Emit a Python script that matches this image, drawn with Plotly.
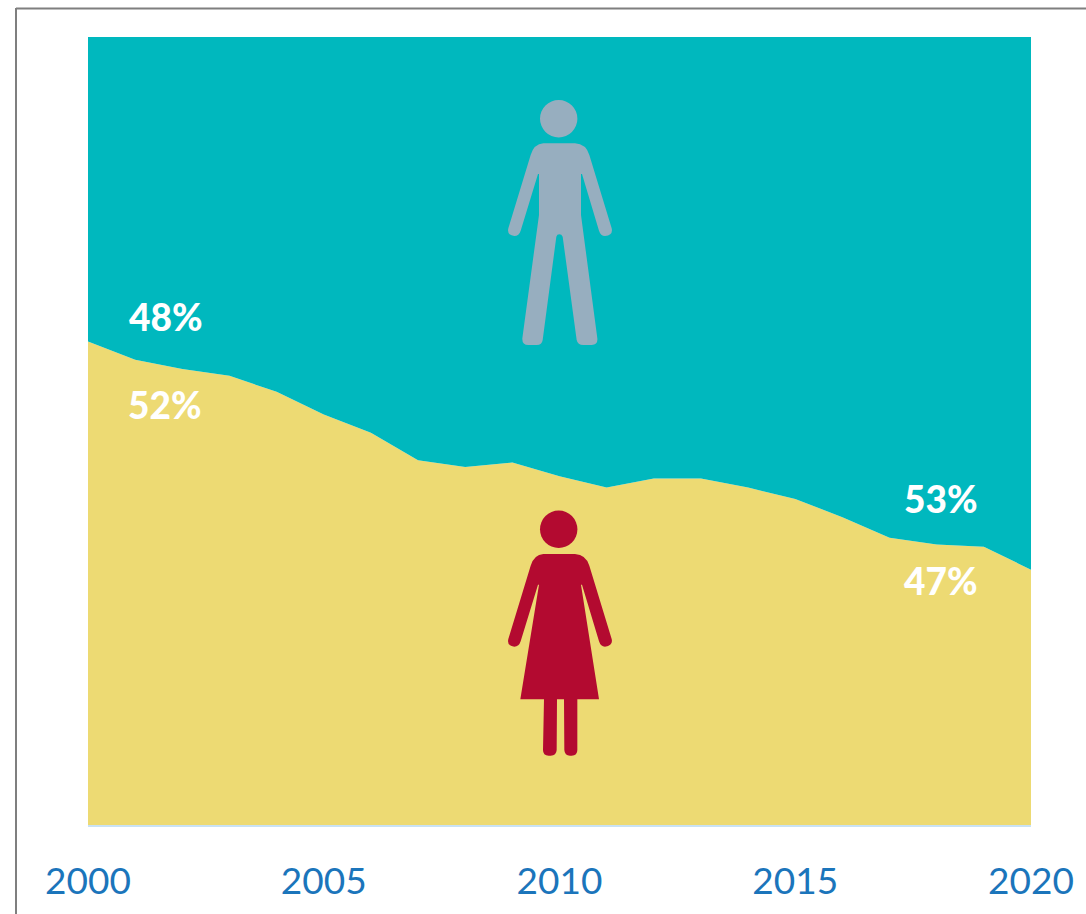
import plotly.graph_objects as go

# Shares (percent of total)
years = list(range(2000, 2021))
women = [52.0, 51.6, 51.4, 51.25, 50.9, 50.4, 50.0, 49.4, 49.25, 49.35, 49.05,
         48.8, 49.0, 49.0, 48.8, 48.55, 48.15, 47.7, 47.55, 47.5, 47.0]
men = [48.0, 48.4, 48.6, 48.75, 49.1, 49.6, 50.0, 50.6, 50.75, 50.65, 50.95,
       51.2, 51.0, 51.0, 51.2, 51.45, 51.85, 52.3, 52.45, 52.5, 53.0]
tick_years = [2000, 2005, 2010, 2015, 2020]
tick_labels = ["2000", "2005", "2010", "2015", "2020"]

W, H = 1086, 914
LEFT, RIGHT, TOP, BOTTOM = 88, 1031, 37, 825

TEAL = "#00B8BE"
YELLOW = "#EDDA73"
MAN = "#97AEBF"
WOMAN = "#B30A30"
BLUE = "#1B75BB"
GREY = "#7F7F7F"


def px(x):
    return (x - LEFT) / (RIGHT - LEFT)


def py(y):
    return (BOTTOM - y) / (BOTTOM - TOP)


def icon_path(cmds, ox, oy):
    # cmds are in 3x crop coordinates, ox/oy is the crop origin on the page
    out = []
    for c in cmds:
        nums = c[1:]
        pts = []
        for i in range(0, len(nums), 2):
            pts.append(f"{px(ox + nums[i] / 3):.5f},{py(oy + nums[i + 1] / 3):.5f}")
        out.append(c[0] + " ".join(pts))
    return " ".join(out) + " Z"


man_body = [
    ("M", 190, 190), ("L", 285, 190), ("Q", 318, 192, 328, 225), ("L", 395, 445),
    ("Q", 400, 465, 375, 468), ("Q", 362, 468, 357, 452), ("L", 306, 282), ("L", 303, 282),
    ("L", 303, 405), ("L", 352, 775), ("Q", 354, 795, 335, 795), ("L", 310, 795),
    ("Q", 293, 795, 290, 780), ("L", 248, 470), ("Q", 245, 463, 238, 463), ("Q", 231, 463, 229, 470),
    ("L", 188, 780), ("Q", 186, 795, 170, 795), ("L", 145, 795), ("Q", 126, 795, 127, 775),
    ("L", 177, 405), ("L", 177, 282), ("L", 174, 282), ("L", 122, 452),
    ("Q", 117, 468, 103, 468), ("Q", 80, 465, 85, 445), ("L", 152, 225), ("Q", 162, 192, 190, 190),
]
woman_body = [
    ("M", 190, 162), ("L", 285, 162), ("Q", 318, 164, 328, 197), ("L", 395, 417),
    ("Q", 400, 437, 375, 440), ("Q", 362, 440, 357, 424), ("L", 306, 254), ("L", 303, 254),
    ("L", 357, 598), ("L", 292, 598), ("L", 292, 750), ("Q", 292, 767, 275, 767),
    ("L", 270, 767), ("Q", 254, 767, 253, 750), ("L", 252, 598), ("L", 231, 598),
    ("L", 230, 750), ("Q", 229, 767, 212, 767), ("L", 206, 767), ("Q", 189, 767, 189, 750),
    ("L", 192, 598), ("L", 121, 598), ("L", 177, 254), ("L", 174, 254), ("L", 122, 424),
    ("Q", 117, 440, 103, 440), ("Q", 80, 437, 85, 417), ("L", 152, 197), ("Q", 162, 164, 190, 162),
]


def head(cx, cy, r, color):
    return dict(type="circle", xref="paper", yref="paper", layer="above",
                x0=px(cx - r), x1=px(cx + r), y0=py(cy + r), y1=py(cy - r),
                fillcolor=color, line_width=0)


shapes = [
    # the grey frame round the picture
    dict(type="line", xref="paper", yref="paper", x0=px(16), x1=px(W), y0=py(8.5), y1=py(8.5),
         line=dict(color=GREY, width=2)),
    dict(type="line", xref="paper", yref="paper", x0=px(16), x1=px(16), y0=py(8), y1=py(H),
         line=dict(color=GREY, width=2)),
    head(558.7, 118.7, 18.7, MAN),
    dict(type="path", xref="paper", yref="paper", layer="above", path=icon_path(man_body, 480, 80),
         fillcolor=MAN, line_width=0),
    head(558.7, 529.3, 18.7, WOMAN),
    dict(type="path", xref="paper", yref="paper", layer="above", path=icon_path(woman_body, 480, 500),
         fillcolor=WOMAN, line_width=0),
]

pct_labels = [("48%", 166, 317), ("52%", 165, 405), ("53%", 941, 498), ("47%", 941, 580)]
annotations = [
    dict(text=t, x=px(x), y=py(y), xref="paper", yref="paper", showarrow=False,
         xanchor="center", yanchor="middle",
         font=dict(family="Lato", size=37, color="white", weight=900))
    for t, x, y in pct_labels
]

fig = go.Figure()
fig.add_trace(go.Scatter(x=years, y=women, name="Women", mode="none", stackgroup="one",
                         fillcolor=YELLOW))
fig.add_trace(go.Scatter(x=years, y=men, name="Men", mode="none", stackgroup="one",
                         fillcolor=TEAL))

fig.update_layout(
    width=W, height=H,
    margin=dict(l=LEFT, r=W - RIGHT, t=TOP, b=H - BOTTOM, pad=0),
    paper_bgcolor="white", plot_bgcolor="white",
    showlegend=False,
    shapes=shapes,
    annotations=annotations,
    xaxis=dict(range=[2000, 2020], tickmode="array", tickvals=tick_years, ticktext=tick_labels,
               showgrid=False, zeroline=False, showline=True, linecolor="#C9E2F4", linewidth=2,
               ticks="outside", ticklen=23, tickcolor="rgba(0,0,0,0)", automargin=False,
               tickangle=0, tickfont=dict(family="Lato", size=37, color=BLUE)),
    yaxis=dict(range=[41.4, 58.68], visible=False, automargin=False),
)

fig.write_html("out.html", config=dict(displayModeBar=False),
               post_script="document.body.style.margin='0';")
